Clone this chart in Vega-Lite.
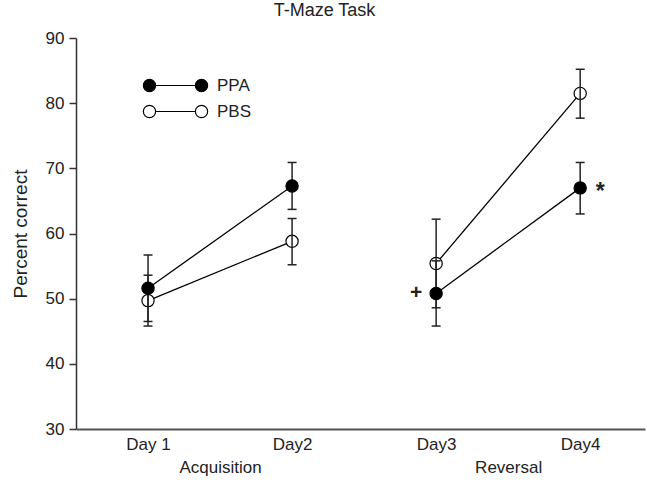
{
  "$schema": "https://vega.github.io/schema/vega-lite/v6.json",
  "width": 569,
  "height": 391,
  "autosize": {"type": "none"},
  "padding": {"left": 76, "top": 38, "right": 2, "bottom": 54},
  "title": {"text": "T-Maze Task", "fontSize": 18, "fontWeight": "normal", "font": "Liberation Sans", "color": "#222", "dx": -36, "offset": 9},
  "config": {
    "view": {"stroke": null},
    "font": "Liberation Sans",
    "axis": {"grid": false, "labelFont": "Liberation Sans", "titleFont": "Liberation Sans", "labelColor": "#222", "titleColor": "#222", "domainColor": "#333", "tickColor": "#333", "domainWidth": 1.5, "tickWidth": 1.5}
  },
  "data": {"values": [
    {"day": 1, "phase": "Acquisition", "group": "PPA", "mean": 51.6, "lo": 46.5, "hi": 56.7, "note": ""},
    {"day": 2, "phase": "Acquisition", "group": "PPA", "mean": 67.3, "lo": 63.7, "hi": 70.9, "note": ""},
    {"day": 3, "phase": "Reversal", "group": "PPA", "mean": 50.8, "lo": 45.8, "hi": 55.8, "note": "+"},
    {"day": 4, "phase": "Reversal", "group": "PPA", "mean": 67.0, "lo": 63.0, "hi": 70.9, "note": "*"},
    {"day": 1, "phase": "Acquisition", "group": "PBS", "mean": 49.7, "lo": 45.8, "hi": 53.6, "note": ""},
    {"day": 2, "phase": "Acquisition", "group": "PBS", "mean": 58.8, "lo": 55.2, "hi": 62.3, "note": ""},
    {"day": 3, "phase": "Reversal", "group": "PBS", "mean": 55.4, "lo": 48.6, "hi": 62.2, "note": ""},
    {"day": 4, "phase": "Reversal", "group": "PBS", "mean": 81.5, "lo": 77.7, "hi": 85.2, "note": ""}
  ]},
  "encoding": {
    "x": {"field": "day", "type": "quantitative",
      "scale": {"domain": [0.5, 4.45], "nice": false, "zero": false},
      "axis": {"title": null, "values": [1, 1.5, 2, 3, 3.5, 4], "ticks": false, "labelFontSize": 17, "labelPadding": 7, "labelLineHeight": 23, "labelOverlap": false, "labelFlush": false, "labelBound": false, "domainColor": "#555", "domainWidth": 2,
        "labelExpr": "datum.value == 1 ? 'Day 1' : datum.value == 2 ? 'Day2' : datum.value == 3 ? 'Day3' : datum.value == 4 ? 'Day4' : datum.value == 1.5 ? [' ', 'Acquisition'] : [' ', 'Reversal']"}},
    "y": {"field": "mean", "type": "quantitative",
      "scale": {"domain": [30, 90], "nice": false, "zero": false},
      "axis": {"title": "Percent correct", "values": [30, 40, 50, 60, 70, 80, 90], "tickSize": 7, "labelFontSize": 17, "labelPadding": 5, "titleFontSize": 19, "titleFontWeight": "normal", "titlePadding": 15}}
  },
  "layer": [
    {"mark": {"type": "line", "color": "black", "strokeWidth": 1.3},
     "encoding": {"detail": [{"field": "group", "type": "nominal"}, {"field": "phase", "type": "nominal"}]}},
    {"transform": [{"filter": "datum.group == 'PBS'"}],
     "mark": {"type": "point", "shape": "circle", "filled": true, "stroke": "black", "strokeWidth": 1.2, "size": 150, "opacity": 1},
     "encoding": {"fill": {"field": "group", "type": "nominal", "scale": {"domain": ["PPA", "PBS"], "range": ["black", "white"]},
       "legend": {"title": null, "orient": "none", "legendX": 91, "legendY": 39, "padding": 0, "rowPadding": 7, "symbolSize": 150, "labelOffset": 33, "labelFontSize": 17, "labelColor": "#222", "labelFont": "Liberation Sans", "symbolStrokeColor": "black", "symbolStrokeWidth": 1.2,
         "symbolType": "M -5.25 0 A 1 1 0 1 1 -3.25 0 A 1 1 0 1 1 -5.25 0 Z M -3.25 0 L 3.25 0 M 3.25 0 A 1 1 0 1 1 5.25 0 A 1 1 0 1 1 3.25 0 Z"}}}},
    {"mark": {"type": "rule", "color": "#222", "strokeWidth": 1.5},
     "encoding": {"y": {"field": "lo", "type": "quantitative"}, "y2": {"field": "hi"}}},
    {"mark": {"type": "tick", "orient": "horizontal", "color": "#222", "size": 9, "thickness": 1.5, "opacity": 1},
     "encoding": {"y": {"field": "lo", "type": "quantitative"}}},
    {"mark": {"type": "tick", "orient": "horizontal", "color": "#222", "size": 9, "thickness": 1.5, "opacity": 1},
     "encoding": {"y": {"field": "hi", "type": "quantitative"}}},
    {"transform": [{"filter": "datum.group == 'PPA'"}],
     "mark": {"type": "point", "shape": "circle", "filled": true, "stroke": "black", "strokeWidth": 1.2, "size": 150, "opacity": 1},
     "encoding": {"fill": {"field": "group", "type": "nominal"}}},
    {"transform": [{"filter": "datum.note == '+'"}],
     "mark": {"type": "text", "fontSize": 21, "fontWeight": "bold", "dx": -20, "dy": 0, "color": "#222", "baseline": "middle"},
     "encoding": {"text": {"field": "note"}}},
    {"transform": [{"filter": "datum.note == '*'"}],
     "mark": {"type": "text", "fontSize": 23, "fontWeight": "bold", "dx": 20, "dy": 4, "color": "#222", "baseline": "middle"},
     "encoding": {"text": {"field": "note"}}}
  ]
}
